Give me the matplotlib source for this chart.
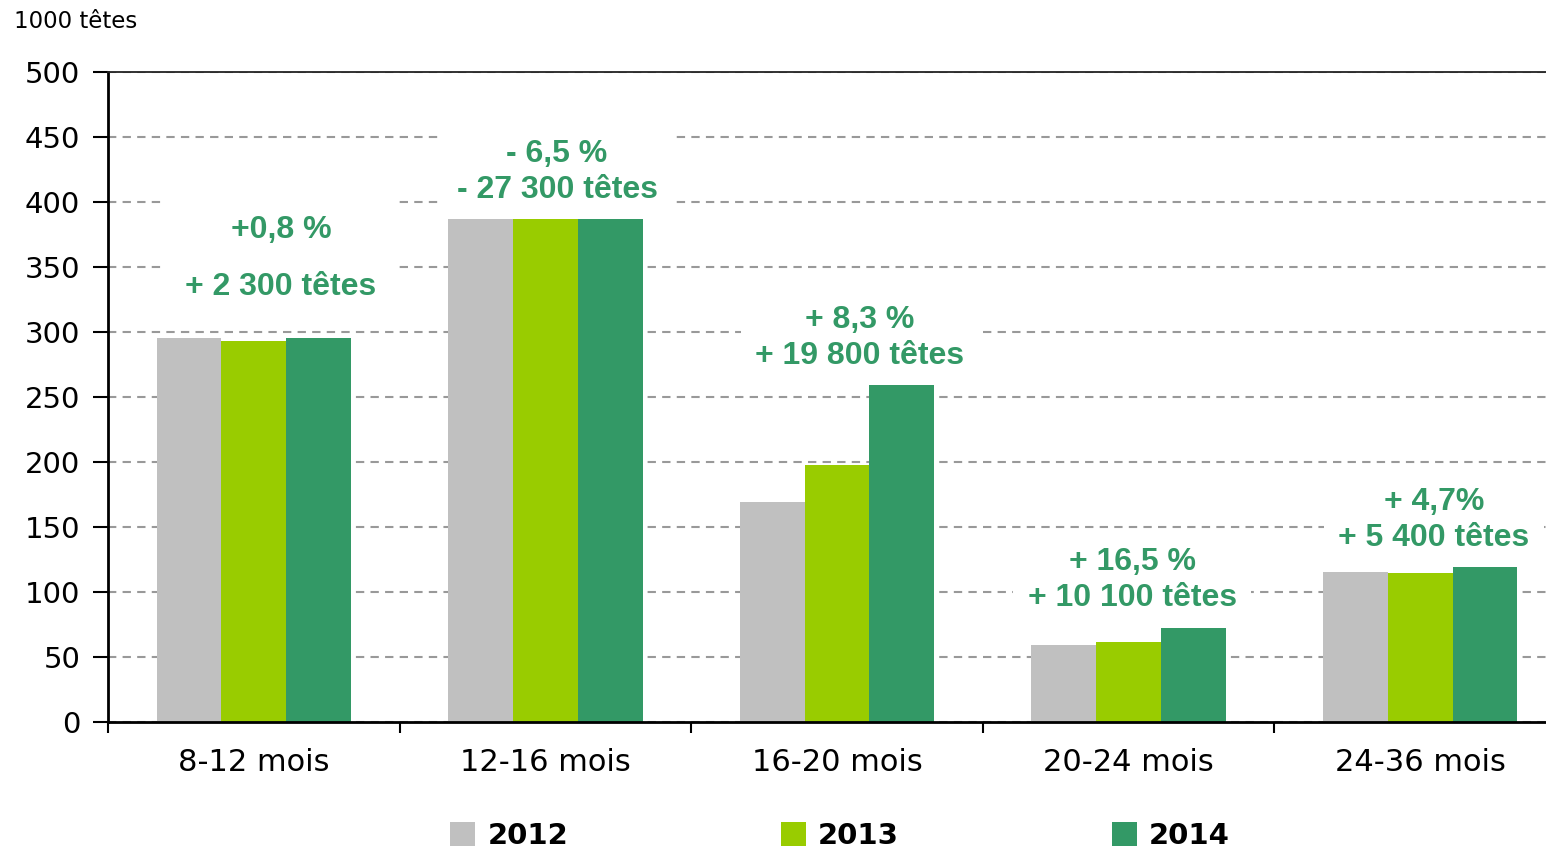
import numpy as np
import matplotlib.pyplot as plt
from matplotlib.patches import Patch

# data (1000 têtes)
categories = ["8-12 mois", "12-16 mois", "16-20 mois", "20-24 mois", "24-36 mois"]
years = ["2012", "2013", "2014"]
values_2012 = [295.6, 386.9, 169.5, 59.2, 115.4]
values_2013 = [293.1, 386.9, 197.7, 61.5, 114.4]
values_2014 = [295.6, 386.9, 259.2, 72.3, 119.2]
pct_labels = ["+0,8 %", "- 6,5 %", "+ 8,3 %", "+ 16,5 %", "+ 4,7%"]
head_labels = ["+ 2 300 têtes", "- 27 300 têtes", "+ 19 800 têtes",
               "+ 10 100 têtes", "+ 5 400 têtes"]

# layout of the annotations (x in category units, y in data units)
annot_x = [0.093, 1.04, 2.079, 3.012, 4.047]
annot_y = [356.5, 423.0, 295.4, 109.2, 155.4]
annot_spacing = [2.15, 1.28, 1.28, 1.28, 1.28]
annot_pad = [0.6, 0.45, 0.45, 0.45, 0.45]

COLORS = ["#C0C0C0", "#99CC00", "#339966"]
TEXT_GREEN = "#339966"

fig = plt.figure(figsize=(15.46, 8.48), dpi=100)
ax = fig.add_axes([108 / 1546, 126 / 848, 1458 / 1546, 650 / 848])

x = np.arange(len(categories))
width = 0.222
series = [values_2012, values_2013, values_2014]
for i, (vals, color) in enumerate(zip(series, COLORS)):
    ax.bar(x + (i - 1) * width, vals, width, color=color, linewidth=0, zorder=1)

ax.set_xlim(-0.5, len(categories) - 0.5)
ax.set_ylim(0, 500)
ax.set_yticks(np.arange(0, 501, 50))
ax.set_xticks(x)
ax.set_xticklabels(categories, fontsize=22, family="DejaVu Sans")
ax.set_xticks(np.arange(-0.5, len(categories), 1), minor=True)

for lab in ax.get_yticklabels():
    lab.set_fontsize(21)
    lab.set_family("DejaVu Sans")

ax.tick_params(axis="x", which="major", length=0, pad=19)
ax.tick_params(axis="x", which="minor", length=8, width=1.5, direction="out")
ax.tick_params(axis="y", length=11, width=1.5, direction="out", pad=9)

ax.set_axisbelow(True)
ax.yaxis.grid(True, color="#999999", linestyle=(0, (4, 3)), linewidth=1.5)

for side in ["left", "bottom"]:
    ax.spines[side].set_linewidth(2)
    ax.spines[side].set_color("black")
ax.spines["top"].set_linewidth(1.3)
ax.spines["top"].set_color("#222222")
ax.spines["right"].set_visible(False)

for xi, yi, sp, pd_, p, h in zip(annot_x, annot_y, annot_spacing, annot_pad,
                                 pct_labels, head_labels):
    ax.text(xi, yi, p + "\n" + h, ha="center", va="center", multialignment="center",
            fontsize=23, fontweight="bold", family="Liberation Sans",
            color=TEXT_GREEN, linespacing=sp, zorder=0.8,
            bbox=dict(boxstyle="square,pad=%s" % pd_, facecolor="white", edgecolor="none"))

fig.text(14 / 1546, 1 - 22 / 848, "1000 têtes", fontsize=16.5, family="DejaVu Sans",
         ha="left", va="center")

handles = [Patch(facecolor=c, edgecolor="none") for c in COLORS]
fig.legend(handles, years, loc="center", bbox_to_anchor=(840 / 1546, 1 - 836 / 848),
           ncol=3, frameon=False, borderpad=0, handlelength=0.86, handleheight=0.86,
           handletextpad=0.41, columnspacing=7.3,
           prop={"family": "DejaVu Sans", "weight": "bold", "size": 21})

fig.savefig("out.png", dpi=100)
